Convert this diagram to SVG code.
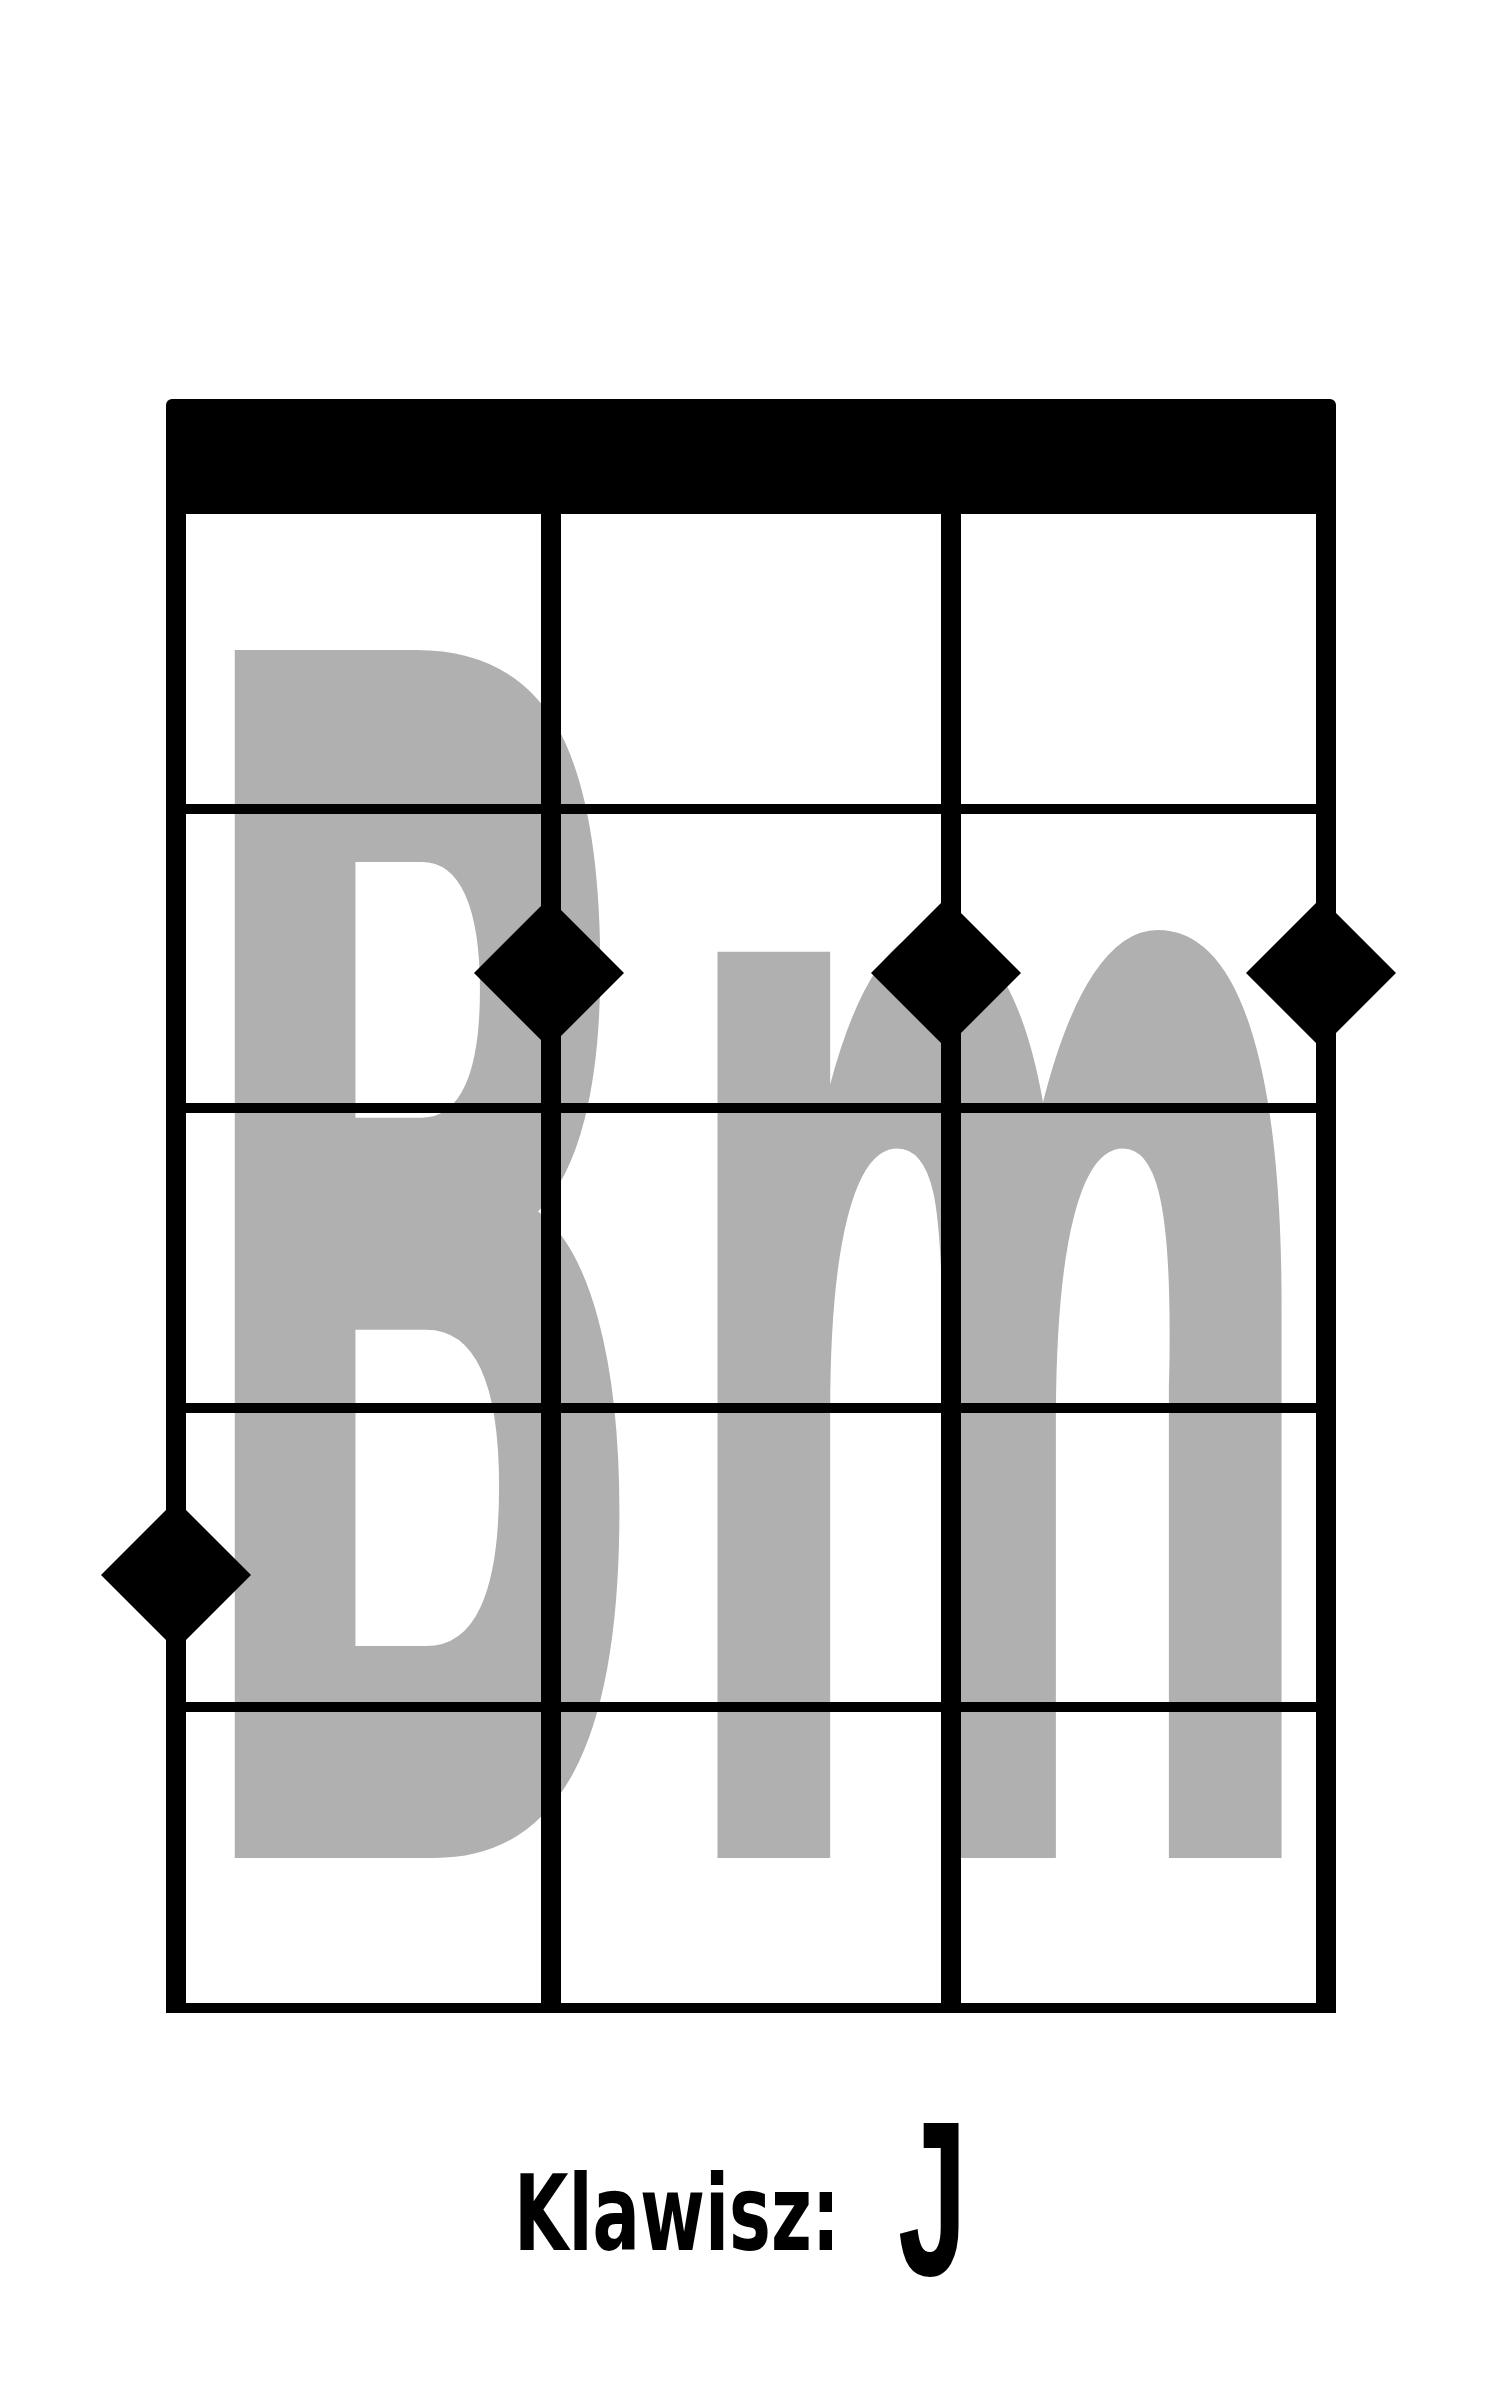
<svg xmlns="http://www.w3.org/2000/svg" width="1500" height="2400" viewBox="0 0 1500 2400">
  <style>
    .chord { font-family: "Liberation Sans Narrow", "DejaVu Sans Condensed", "Liberation Sans", sans-serif; font-weight: bold; fill: #b0b0b0; }
    .label { font-family: "Liberation Sans Narrow", "DejaVu Sans Condensed", "Liberation Sans", sans-serif; font-weight: bold; fill: #000; }
    .key { font-family: "Liberation Sans", Arial, sans-serif; font-weight: bold; fill: #000; }
    .fret { stroke: #000; stroke-width: 10; }
    .string { stroke: #000; stroke-width: 20; }
    .dot { fill: #000; }
  </style>
  <rect width="1500" height="2400" fill="#fff"/>
  <g id="chord-name">
    <text class="chord" x="176" y="1858" font-size="1657" textLength="1156" lengthAdjust="spacingAndGlyphs">Bm</text>
  </g>
  <g id="grid">
    <rect id="nut" x="166" y="399" width="1170" height="115" rx="6" ry="6" fill="#000"/>
    <g id="frets">
      <line class="fret" x1="166" y1="809" x2="1336" y2="809"/>
      <line class="fret" x1="166" y1="1108" x2="1336" y2="1108"/>
      <line class="fret" x1="166" y1="1408" x2="1336" y2="1408"/>
      <line class="fret" x1="166" y1="1707" x2="1336" y2="1707"/>
      <line class="fret" x1="166" y1="2008" x2="1336" y2="2008"/>
    </g>
    <g id="strings">
      <line class="string" x1="176" y1="500" x2="176" y2="2013"/>
      <line class="string" x1="551" y1="500" x2="551" y2="2013"/>
      <line class="string" x1="951" y1="500" x2="951" y2="2013"/>
      <line class="string" x1="1326" y1="500" x2="1326" y2="2013"/>
    </g>
  </g>
  <g id="dots">
    <polygon id="dot-1" class="dot" points="176,1500 251,1575 176,1650 101,1575"/>
    <polygon id="dot-2" class="dot" points="549,898 624,973 549,1048 474,973"/>
    <polygon id="dot-3" class="dot" points="946,898 1021,973 946,1048 871,973"/>
    <polygon id="dot-4" class="dot" points="1321,898 1396,973 1321,1048 1246,973"/>
  </g>
  <g id="key-label">
    <text class="label" x="514" y="2250" font-size="105" textLength="326" lengthAdjust="spacingAndGlyphs">Klawisz:</text>
    <text class="key" x="898" y="2275" font-size="221" textLength="69" lengthAdjust="spacingAndGlyphs">J</text>
  </g>
</svg>
